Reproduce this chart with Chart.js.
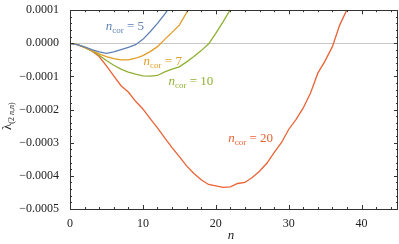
<!DOCTYPE html>
<html>
<head>
<meta charset="utf-8">
<script src="https://cdn.jsdelivr.net/npm/chart.js@4/dist/chart.umd.min.js"></script>
<style>
  html, body { margin: 0; padding: 0; background: #fff; }
  #chart { display: block; }
</style>
</head>
<body>
<canvas id="chart" width="399" height="244"></canvas>
<script>
// n values along the x axis
const nValues = [0,1,2,3,4,5,6,7,8,9,10,11,12,13,14,15,16,17,18,19,20,21,22,23,24,25,26,27,28,29,30,31,32,33,34,35,36,37,38];

// lambda_(2n,n) in units of 1e-4
const ncor5 = [0,-0.04,-0.11,-0.19,-0.26,-0.30,-0.26,-0.19,-0.12,-0.04,0.12,0.35,0.60,0.88,1.2];
const ncor7 = [0,-0.04,-0.12,-0.22,-0.32,-0.40,-0.46,-0.50,-0.50,-0.45,-0.37,-0.25,-0.10,0.12,0.33,0.55,0.93,1.3];
const ncor10 = [0,-0.04,-0.12,-0.23,-0.36,-0.52,-0.66,-0.78,-0.87,-0.93,-0.98,-0.99,-0.97,-0.86,-0.78,-0.71,-0.56,-0.40,-0.22,-0.02,0.30,0.65,1.02];
const ncor20 = [0,-0.04,-0.12,-0.23,-0.40,-0.68,-0.98,-1.28,-1.47,-1.75,-1.98,-2.27,-2.55,-2.85,-3.15,-3.42,-3.70,-3.93,-4.12,-4.26,-4.30,-4.35,-4.33,-4.23,-4.20,-4.05,-3.86,-3.62,-3.30,-3.00,-2.60,-2.30,-1.95,-1.50,-0.90,-0.53,-0.10,0.55,1.02];

const labels = ["5", "7", "10", "20"];
const colors = ["#5E81B5", "#E19C24", "#8FB032", "#EB6235"];
const xTicks = [0, 10, 20, 30, 40];
const yTicks = [0.0001, 0, -0.0001, -0.0002, -0.0003, -0.0004, -0.0005];

const series = [ncor5, ncor7, ncor10, ncor20];

const serif = "'Liberation Serif', 'DejaVu Serif', serif";

function toPoints(vals) {
  return vals.map((v, i) => ({ x: nValues[i], y: v * 1e-4 }));
}

function drawNcor(ctx, x, y, val, color) {
  ctx.save();
  ctx.fillStyle = color;
  ctx.textBaseline = "alphabetic";
  ctx.textAlign = "left";
  ctx.font = "italic 13px " + serif;
  ctx.fillText("n", x, y);
  x += ctx.measureText("n").width;
  ctx.font = "9px " + serif;
  ctx.fillText("cor", x, y + 3);
  x += ctx.measureText("cor").width;
  ctx.font = "13px " + serif;
  ctx.fillText(" = " + val, x, y);
  ctx.restore();
}

const framePlugin = {
  id: "frame",
  beforeDatasetsDraw(chart) {
    const { ctx, chartArea: a, scales } = chart;
    const y0 = Math.round(scales.y.getPixelForValue(0)) + 0.5;
    ctx.save();
    ctx.strokeStyle = "#c8c8c8";
    ctx.lineWidth = 1;
    ctx.beginPath();
    ctx.moveTo(a.left, y0);
    ctx.lineTo(a.right, y0);
    ctx.stroke();
    ctx.restore();
  },
  afterDraw(chart) {
    const { ctx, chartArea: a, scales } = chart;
    const xs = scales.x, ys = scales.y;
    ctx.save();
    ctx.strokeStyle = "#333";
    ctx.lineWidth = 1;
    ctx.strokeRect(Math.round(a.left) + 0.5, Math.round(a.top) + 0.5,
      Math.round(a.right - a.left) - 1, Math.round(a.bottom - a.top));
    ctx.beginPath();
    // x ticks every 2, major every 10
    for (let v = 0; v <= 45; v += 2) {
      const len = v % 10 === 0 ? 4 : 2;
      const px = Math.round(xs.getPixelForValue(v)) + 0.5;
      ctx.moveTo(px, a.bottom); ctx.lineTo(px, a.bottom - len);
      ctx.moveTo(px, a.top); ctx.lineTo(px, a.top + len);
    }
    for (let v = 10; v <= 40; v += 10) {
      const px = Math.round(xs.getPixelForValue(v)) + 0.5;
      ctx.moveTo(px, a.bottom); ctx.lineTo(px, a.bottom - 4);
      ctx.moveTo(px, a.top); ctx.lineTo(px, a.top + 4);
    }
    // y ticks every 2e-5, major every 1e-4
    for (let k = -25; k <= 5; k++) {
      const len = k % 5 === 0 ? 4 : 2;
      const py = Math.round(ys.getPixelForValue(k * 2e-5)) + 0.5;
      ctx.moveTo(a.left, py); ctx.lineTo(a.left + len, py);
      ctx.moveTo(a.right, py); ctx.lineTo(a.right - len, py);
    }
    ctx.stroke();
    ctx.restore();

    // curve labels
    drawNcor(ctx, xs.getPixelForValue(4.9), ys.getPixelForValue(0.4e-4), labels[0], colors[0]);
    drawNcor(ctx, xs.getPixelForValue(10.1), ys.getPixelForValue(-0.64e-4), labels[1], colors[1]);
    drawNcor(ctx, xs.getPixelForValue(13.5), ys.getPixelForValue(-1.26e-4), labels[2], colors[2]);
    drawNcor(ctx, xs.getPixelForValue(21.7), ys.getPixelForValue(-2.98e-4), labels[3], colors[3]);

    // axis titles
    ctx.save();
    ctx.fillStyle = "#222";
    ctx.font = "italic 13px " + serif;
    ctx.textAlign = "center";
    ctx.textBaseline = "alphabetic";
    ctx.fillText("n", (a.left + a.right) / 2 - 3, 239);
    ctx.translate(11, 130);
    ctx.rotate(-Math.PI / 2);
    ctx.textAlign = "left";
    ctx.font = "13px " + serif;
    ctx.fillText("λ", 0, 0);
    let x = ctx.measureText("λ").width;
    ctx.font = "8px " + serif;
    ctx.fillText("(2", x, 3);
    x += ctx.measureText("(2").width;
    ctx.font = "italic 8px " + serif;
    ctx.fillText(" n", x, 3);
    x += ctx.measureText(" n").width;
    ctx.font = "8px " + serif;
    ctx.fillText(",", x, 3);
    x += ctx.measureText(",").width;
    ctx.font = "italic 8px " + serif;
    ctx.fillText("n", x, 3);
    x += ctx.measureText("n").width;
    ctx.font = "8px " + serif;
    ctx.fillText(")", x, 3);
    ctx.restore();
  }
};

new Chart(document.getElementById("chart"), {
  type: "line",
  data: {
    datasets: series.map((vals, i) => ({
      label: "ncor = " + labels[i],
      data: toPoints(vals),
      borderColor: colors[i],
      borderWidth: 1.3,
      pointRadius: 0,
      tension: 0,
      fill: false
    }))
  },
  options: {
    responsive: false,
    animation: false,
    layout: { padding: { top: 6, right: 1, left: 0, bottom: 0 } },
    plugins: { legend: { display: false }, tooltip: { enabled: false } },
    scales: {
      x: {
        type: "linear",
        min: 0,
        max: 45,
        afterFit: s => { s.height = 35; },
        afterBuildTicks: s => { s.ticks = xTicks.map(v => ({ value: v })); },
        grid: { display: false },
        border: { display: false },
        ticks: {
          padding: 0,
          color: "#222",
          font: { family: serif, size: 12 },
          maxRotation: 0,
          callback: v => String(v)
        }
      },
      y: {
        type: "linear",
        min: -0.0005,
        max: 0.0001,
        afterFit: s => { s.width = 70; },
        afterBuildTicks: s => { s.ticks = yTicks.map(v => ({ value: v })); },
        grid: { display: false },
        border: { display: false },
        ticks: {
          padding: 3,
          color: "#222",
          font: { family: serif, size: 12 },
          callback: v => v.toFixed(4).replace("-", "\u2212")
        }
      }
    }
  },
  plugins: [framePlugin]
});
</script>
</body>
</html>
